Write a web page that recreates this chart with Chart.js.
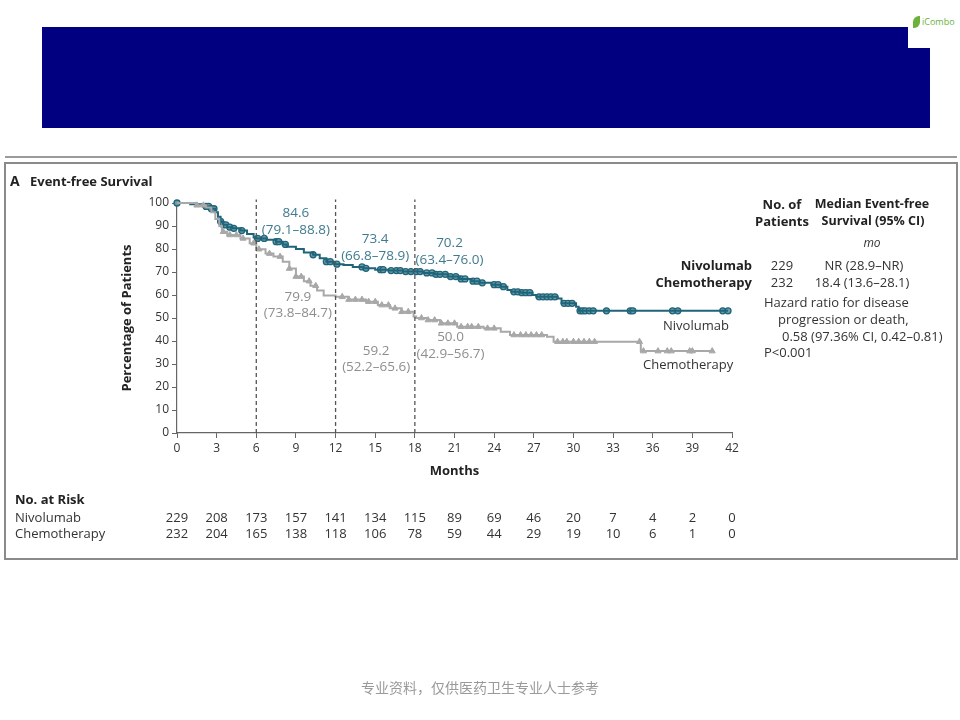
<!DOCTYPE html>
<html>
<head>
<meta charset="utf-8">
<script src="https://cdn.jsdelivr.net/npm/chart.js@4.4.1/dist/chart.umd.min.js"></script>
<style>
  html, body { margin: 0; padding: 0; background: #fff; }
  #page { position: relative; width: 960px; height: 720px; overflow: hidden;
          font-family: "Open Sans", "Noto Sans", sans-serif; color: #333; }
  .box { position: absolute; }
  .t { position: absolute; white-space: nowrap; line-height: 16px; font-size: 13px; }
  .b { font-weight: bold; font-size: 13px; color: #222; }
  .teal { color: #3f7b8e; font-size: 13.5px; }
  .grey { color: #8e8e8e; font-size: 13.5px; }
  canvas { position: absolute; left: 0; top: 0; }
</style>
</head>
<body>
<div id="page">
  <div class="box" style="left:42px;top:27px;width:866px;height:101px;background:#000080"></div>
  <div class="box" style="left:908px;top:48px;width:22px;height:80px;background:#000080"></div>
  <div class="box" style="left:913px;top:16px;width:7px;height:12px;background:#6ab23a;border-radius:6px 0 6px 0"></div>
  <div class="t" style="left:922px;top:14px;font-size:9px;color:#6ab23a">iCombo</div>
  <div class="box" style="left:5px;top:156px;width:952px;height:2px;background:#9a9a9a"></div>
  <div class="box" style="left:4px;top:162px;width:950px;height:394px;border:2px solid #8a8a8a"></div>
  <canvas id="km" width="960" height="720"></canvas>
</div>
<script>
// Kaplan-Meier step points (months, % event-free)
const nivoTime = [0, 1.0, 2.0, 2.6, 2.9, 3.1, 3.3, 3.5, 3.8, 4.2, 4.8, 5.3, 5.8, 6.0, 6.8, 7.5, 8.0, 8.3, 9.0, 9.6,
  10.3, 10.8, 11.3, 11.9, 12.6, 13.3, 14.1, 15.0, 16.0, 17.1, 18.6, 19.5, 20.5, 21.4, 22.3, 22.9, 23.8, 24.5,
  25.0, 25.3, 26.0, 26.9, 27.2, 28.8, 29.1, 30.2, 30.4, 41.7];
const nivoSurv = [100, 99.5, 98.5, 97.5, 96, 94, 92, 90.5, 89.5, 89, 88, 86.5, 85, 84.6, 84, 83.2, 82, 81, 80, 78.5,
  77.5, 76, 74.5, 73.4, 73, 72.2, 71.6, 71, 70.6, 70.2, 69.6, 69, 68, 67, 66, 65.3, 64.5, 63.6,
  62.2, 61.4, 61, 60, 59.2, 58.5, 56.4, 54.9, 53.1, 53.1];
const chemoTime = [0, 1.5, 2.2, 2.6, 2.9, 3.2, 3.4, 3.8, 4.8, 5.5, 6.0, 6.7, 7.3, 8.0, 8.5, 9.0, 9.6, 10.1, 10.6,
  11.1, 12.0, 13.0, 14.3, 15.2, 16.1, 17.0, 17.9, 18.1, 18.9, 19.9, 21.2, 23.2, 24.5, 25.2, 28.0, 28.5, 35.1, 40.5];
const chemoSurv = [100, 99, 98, 96, 93, 90, 87.5, 86.1, 84.6, 82.5, 79.9, 78, 76.7, 74.5, 71.5, 68, 66, 64, 62,
  59.8, 59.2, 58, 57.1, 55.6, 54.2, 52.7, 50.6, 50.0, 49.1, 47.7, 46.2, 45.5, 44, 42.6, 41.9, 39.7, 35.6, 35.6];

// censoring times (marks sit on the curve)
const nivoCensor = [0, 2.2, 2.4, 2.6, 2.8, 3.3, 3.5, 3.7, 4.0, 4.3, 4.9, 6.1, 6.6, 7.5, 7.7, 8.2, 10.3, 11.3, 11.6,
  12.1, 14.0, 14.3, 15.4, 15.6, 16.2, 16.6, 16.9, 17.3, 17.7, 18.1, 18.4, 18.9, 19.3, 19.6, 19.9, 20.3, 20.7,
  21.1, 21.5, 21.8, 22.4, 22.7, 23.1, 24.0, 24.3, 24.7, 25.5, 25.8, 26.1, 26.4, 26.7, 27.4, 27.7, 28.0, 28.3,
  28.6, 29.3, 29.6, 29.9, 30.5, 30.7, 30.9, 31.2, 31.5, 32.5, 34.3, 34.5, 37.5, 37.9, 41.3, 41.7];
const chemoCensor = [1.5, 2.0, 3.5, 4.0, 4.5, 5.0, 5.8, 6.2, 7.0, 7.8, 8.5, 9.0, 9.4, 10.0, 10.5, 12.5, 13.0, 13.5,
  14.0, 14.5, 15.0, 15.5, 16.0, 16.5, 17.0, 17.5, 18.5, 19.0, 19.5, 20.0, 20.5, 21.0, 21.5, 22.0, 22.3, 22.8,
  23.5, 24.0, 25.5, 26.0, 26.4, 26.8, 27.2, 27.6, 28.8, 29.2, 29.5, 30.0, 30.4, 30.8, 31.2, 31.6, 35.0, 35.3,
  36.4, 37.1, 37.4, 38.8, 39.0, 40.5];

// landmark estimates
const landmarkMonths = [6, 12, 18];
const nivoLandmark = ['84.6', '73.4', '70.2'];
const nivoLandmarkCI = ['(79.1–88.8)', '(66.8–78.9)', '(63.4–76.0)'];
const chemoLandmark = ['79.9', '59.2', '50.0'];
const chemoLandmarkCI = ['(73.8–84.7)', '(52.2–65.6)', '(42.9–56.7)'];

// number at risk
const riskMonths = [0, 3, 6, 9, 12, 15, 18, 21, 24, 27, 30, 33, 36, 39, 42];
const nivoRisk = [229, 208, 173, 157, 141, 134, 115, 89, 69, 46, 20, 7, 4, 2, 0];
const chemoRisk = [232, 204, 165, 138, 118, 106, 78, 59, 44, 29, 19, 10, 6, 1, 0];

const TEAL = '#1f6478';
const GREY = '#a8a8a8';
const page = document.getElementById('page');

function survAt(times, surv, t) {
  let v = surv[0];
  for (let i = 0; i < times.length; i++) {
    if (times[i] <= t) v = surv[i];
  }
  return v;
}

function put(text, x, y, cls, align, extra) {
  const d = document.createElement('div');
  d.className = 't ' + (cls || '');
  d.textContent = text;
  d.style.left = x + 'px';
  d.style.top = (y - 8) + 'px';
  if (align === 'center') d.style.transform = 'translateX(-50%)';
  if (align === 'right') d.style.transform = 'translateX(-100%)';
  if (extra) Object.assign(d.style, extra);
  page.appendChild(d);
  return d;
}

const kmNivo = nivoTime.map((t, i) => ({ x: t, y: nivoSurv[i] }));
const kmChemo = chemoTime.map((t, i) => ({ x: t, y: chemoSurv[i] }));
const censNivo = nivoCensor.map(t => ({ x: t, y: survAt(nivoTime, nivoSurv, t) }));
const censChemo = chemoCensor.map(t => ({ x: t, y: survAt(chemoTime, chemoSurv, t) }));

const dashSets = landmarkMonths.map(m => ({
  type: 'line',
  data: [{ x: m, y: 0 }, { x: m, y: 101.5 }],
  borderColor: '#555',
  borderWidth: 1.3,
  borderDash: [4, 3],
  pointRadius: 0,
  clip: false
}));

const tickFont = { family: '"Open Sans", "Noto Sans", sans-serif', size: 12 };
const titleFont = { family: '"Open Sans", "Noto Sans", sans-serif', size: 13, weight: 'bold' };

const chart = new Chart(document.getElementById('km'), {
  type: 'line',
  data: {
    datasets: [
      ...dashSets,
      { label: 'Chemotherapy', data: kmChemo, borderColor: GREY, borderWidth: 2, stepped: true, pointRadius: 0, fill: false, clip: false },
      { type: 'scatter', data: censChemo, pointStyle: 'triangle', pointRadius: 3.5, backgroundColor: GREY, borderColor: GREY, borderWidth: 1, clip: false },
      { label: 'Nivolumab', data: kmNivo, borderColor: TEAL, borderWidth: 2, stepped: true, pointRadius: 0, fill: false, clip: false },
      { type: 'scatter', data: censNivo, pointStyle: 'circle', pointRadius: 3, backgroundColor: '#6b9dab', borderColor: TEAL, borderWidth: 1.3, clip: false }
    ]
  },
  options: {
    responsive: false,
    animation: false,
    events: [],
    layout: { padding: { left: 115, top: 203, right: 228, bottom: 237 } },
    plugins: { legend: { display: false }, tooltip: { enabled: false } },
    scales: {
      x: {
        type: 'linear', min: 0, max: 42,
        ticks: { stepSize: 3, color: '#333', font: tickFont, padding: 3, maxRotation: 0 },
        grid: { drawOnChartArea: false, tickLength: 5, color: '#666' },
        border: { color: '#666', width: 1.2 },
        title: { display: true, text: 'Months', color: '#222', font: titleFont, padding: 4 },
        afterFit: s => { s.height = 50; }
      },
      y: {
        min: 0, max: 100,
        ticks: { stepSize: 10, color: '#333', font: tickFont, padding: 3 },
        grid: { drawOnChartArea: false, tickLength: 5, color: '#666' },
        border: { color: '#666', width: 1.2 },
        title: { display: true, text: 'Percentage of Patients', color: '#222', font: titleFont, padding: 4 },
        afterFit: s => { s.width = 62; }
      }
    }
  }
});

// panel title
put('A', 10, 181, 'b', null, { fontSize: '14px' });
put('Event-free Survival', 30, 181, 'b');

// landmark labels
const xs = chart.scales.x;
const nivoLabelY = [[212, 229], [238, 255], [242, 259]];
const chemoLabelY = [[296, 312], [350, 366], [336, 353]];
const labelMid = [9, 15, 21];
landmarkMonths.forEach((m, i) => {
  const cx = xs.getPixelForValue(labelMid[i]) + (i === 2 ? -5 : 0);
  put(nivoLandmark[i], cx, nivoLabelY[i][0], 'teal', 'center');
  put(nivoLandmarkCI[i], cx, nivoLabelY[i][1], 'teal', 'center');
  const gx = xs.getPixelForValue(labelMid[i]) + (i === 0 ? 2 : (i === 2 ? -4 : 1));
  put(chemoLandmark[i], gx, chemoLabelY[i][0], 'grey', 'center');
  put(chemoLandmarkCI[i], gx, chemoLabelY[i][1], 'grey', 'center');
});

// curve labels
put('Nivolumab', 663, 325);
put('Chemotherapy', 643, 364);

// side legend
put('No. of', 782, 204, 'b', 'center');
put('Patients', 782, 221, 'b', 'center');
put('Median Event-free', 872, 204, 'b', 'center', { fontSize: '12.5px' });
put('Survival (95% CI)', 873, 221, 'b', 'center', { fontSize: '12.5px' });
put('mo', 872, 243, null, 'center', { fontStyle: 'italic', fontSize: '12px' });
put('Nivolumab', 752, 265, 'b', 'right');
put('Chemotherapy', 752, 282, 'b', 'right');
put(String(nivoRisk[0]), 782, 265, null, 'center');
put(String(chemoRisk[0]), 782, 282, null, 'center');
put('NR (28.9–NR)', 864, 265, null, 'center');
put('18.4 (13.6–28.1)', 862, 282, null, 'center');
put('Hazard ratio for disease', 764, 302);
put('progression or death,', 778, 319);
put('0.58 (97.36% CI, 0.42–0.81)', 782, 336);
put('P<0.001', 764, 352);

// number at risk table
put('No. at Risk', 15, 499, 'b');
put('Nivolumab', 15, 517);
put('Chemotherapy', 15, 533);
riskMonths.forEach((m, i) => {
  const px = xs.getPixelForValue(m);
  put(String(nivoRisk[i]), px, 517, null, 'center');
  put(String(chemoRisk[i]), px, 533, null, 'center');
});

// footer note
put('专业资料，仅供医药卫生专业人士参考', 480, 686, null, 'center',
  { fontFamily: '"Noto Sans CJK SC", sans-serif', fontSize: '14px', color: '#9a9a9a', lineHeight: '18px' });
</script>
</body>
</html>
